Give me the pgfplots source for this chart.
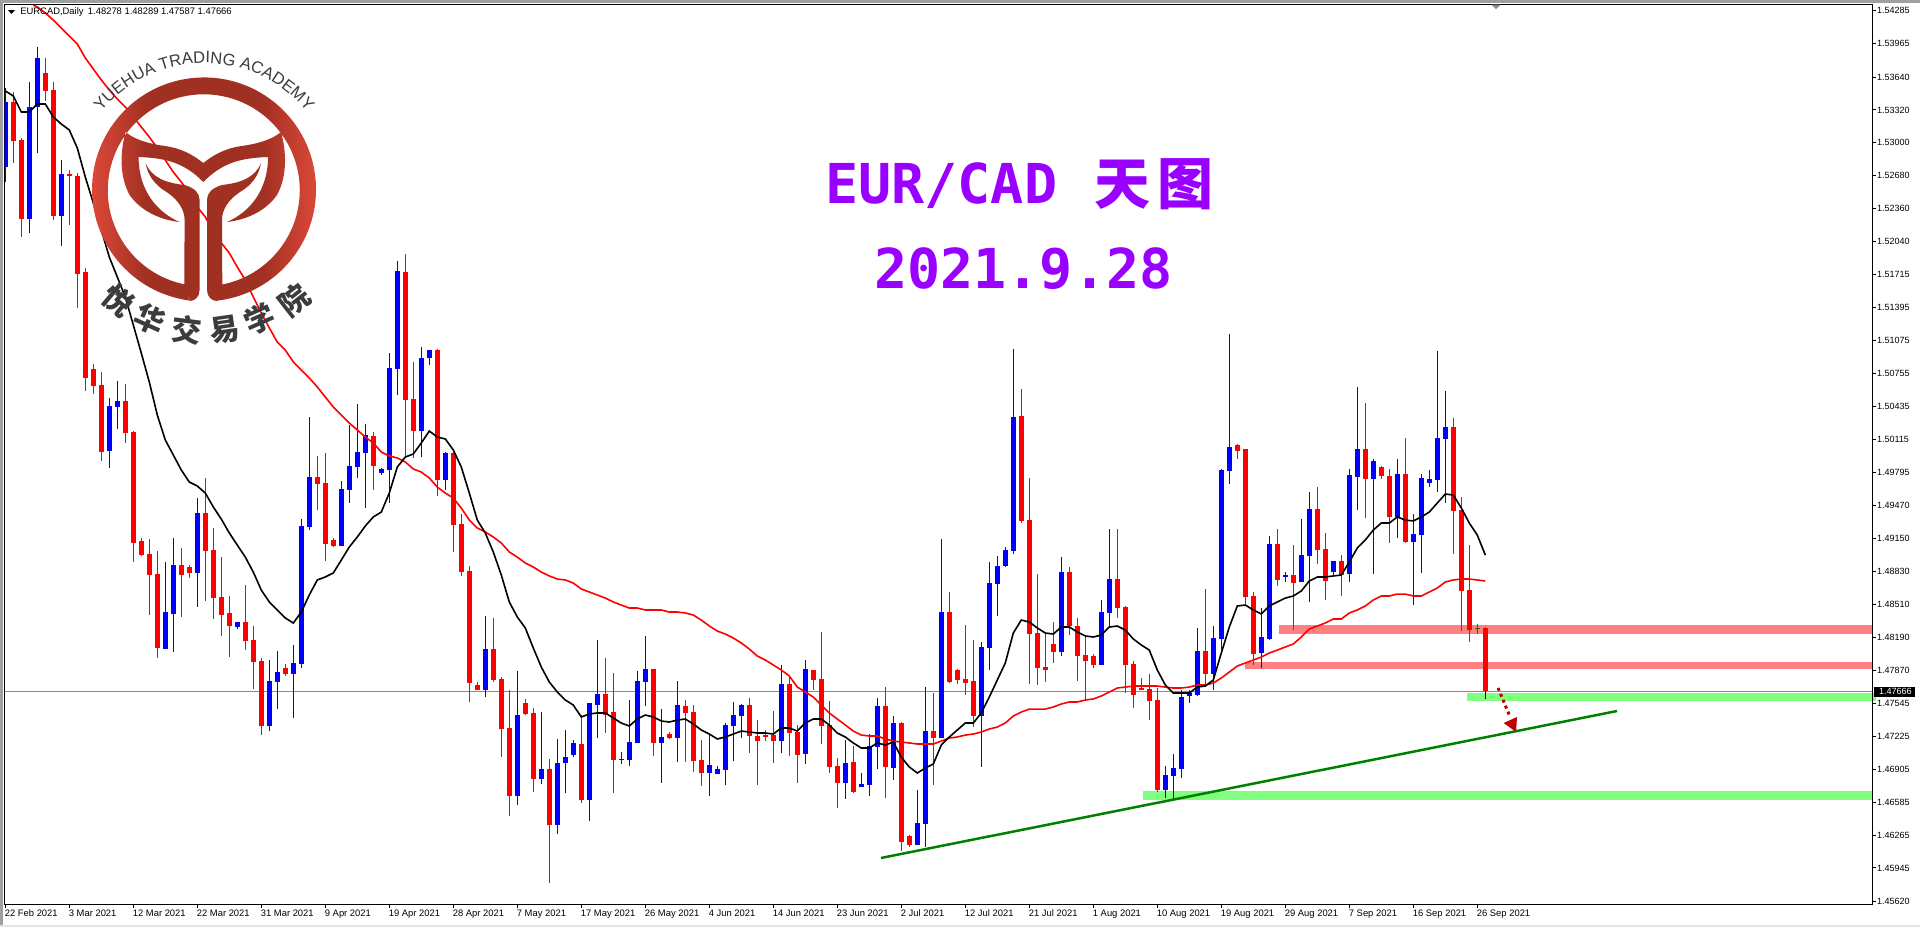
\documentclass[border=0pt]{standalone}
\usepackage{fontspec}
\usepackage{pgfplots}
\usepackage{pgfplotstable}
\pgfplotsset{compat=1.18}
\usetikzlibrary{decorations.text}
\setmainfont{Liberation Sans}
\newfontfamily\cjk{Noto Sans CJK SC}
\newfontfamily\tfont{DejaVu Sans Mono}
\definecolor{titlep}{HTML}{9900FF}
\definecolor{zoneR}{HTML}{FF8080}
\definecolor{zoneG}{HTML}{80FF80}
\definecolor{trend}{HTML}{008000}
\definecolor{hline}{HTML}{7F8C9C}
\definecolor{logoA}{HTML}{E24B3B}
\definecolor{logoB}{HTML}{A03022}
\definecolor{logoT}{HTML}{3C3C3C}
\definecolor{arrowc}{HTML}{C00000}
\pgfdeclarehorizontalshading{logoshade}{100bp}{color(0bp)=(logoA); color(25bp)=(logoA); color(38bp)=(logoB); color(62bp)=(logoB); color(75bp)=(logoA); color(100bp)=(logoA)}

\pgfplotstableread{
i l b t h
0 1.52619 1.52765 1.53398 1.53534
3 1.52123 1.52259 1.53349 1.53592
4 1.52901 1.53349 1.53826 1.53933
7 1.51996 1.52288 1.52697 1.52833
13 1.49836 1.50002 1.50440 1.50517
14 1.50216 1.50430 1.50488 1.50683
20 1.48075 1.48075 1.48435 1.48922
21 1.48046 1.48416 1.48893 1.49155
24 1.48484 1.48815 1.49399 1.49544
29 1.48270 1.48289 1.48338 1.48338
33 1.47277 1.47326 1.47764 1.47968
34 1.47491 1.47754 1.47851 1.48056
36 1.47404 1.47832 1.47939 1.48114
37 1.47890 1.47929 1.49272 1.49340
38 1.49233 1.49262 1.49749 1.50333
42 1.49077 1.49077 1.49632 1.49710
43 1.49496 1.49622 1.49856 1.50255
44 1.49739 1.49846 1.49992 1.50459
45 1.49447 1.49982 1.50157 1.50264
47 1.49768 1.49788 1.49827 1.49836
48 1.49496 1.49817 1.50809 1.50955
49 1.50547 1.50800 1.51753 1.51850
52 1.49943 1.50196 1.50907 1.51014
53 1.50839 1.50907 1.50984 1.50984
55 1.49622 1.49720 1.49982 1.49992
60 1.47608 1.47676 1.48075 1.48396
64 1.46557 1.46645 1.47433 1.47861
67 1.46762 1.46810 1.46908 1.47462
69 1.46275 1.46363 1.46966 1.47200
70 1.46674 1.46966 1.47024 1.47287
71 1.47024 1.47044 1.47161 1.47190
73 1.46402 1.46606 1.47550 1.47550
74 1.47209 1.47530 1.47637 1.48163
77 1.46956 1.46995 1.47005 1.47073
78 1.46937 1.46995 1.47170 1.47579
79 1.47161 1.47161 1.47764 1.47861
80 1.47521 1.47754 1.47881 1.48202
82 1.46771 1.47161 1.47219 1.47491
84 1.46976 1.47209 1.47530 1.47764
88 1.46645 1.46869 1.46947 1.47238
89 1.46859 1.46859 1.46908 1.46937
90 1.46752 1.46898 1.47336 1.47355
91 1.46985 1.47326 1.47433 1.47560
92 1.47209 1.47423 1.47530 1.47540
97 1.47063 1.47180 1.47735 1.47920
100 1.46956 1.47054 1.47881 1.47968
105 1.46616 1.46771 1.46966 1.47190
107 1.46733 1.46733 1.46762 1.46869
108 1.46645 1.46752 1.47131 1.47248
109 1.46908 1.47122 1.47521 1.47598
111 1.46801 1.46917 1.47355 1.47423
114 1.46168 1.46168 1.46382 1.46703
115 1.46149 1.46372 1.47277 1.47705
117 1.47209 1.47209 1.48435 1.49146
122 1.46927 1.47423 1.48095 1.48143
123 1.47871 1.48085 1.48717 1.48922
124 1.48396 1.48708 1.48883 1.48980
125 1.48873 1.48883 1.49038 1.49068
126 1.49000 1.49029 1.50333 1.50994
132 1.48007 1.48046 1.48824 1.48970
137 1.47920 1.47920 1.48435 1.48552
138 1.48289 1.48426 1.48756 1.49243
145 1.46625 1.46703 1.46849 1.46937
146 1.46606 1.46840 1.46917 1.47054
147 1.46820 1.46908 1.47608 1.47676
148 1.47550 1.47618 1.47647 1.47676
149 1.47618 1.47628 1.48056 1.48280
151 1.47676 1.47832 1.48182 1.48299
152 1.48065 1.48173 1.49817 1.49827
153 1.49681 1.49807 1.50041 1.51140
157 1.47890 1.48036 1.48192 1.48474
158 1.48163 1.48173 1.49097 1.49175
160 1.48727 1.48776 1.48795 1.48824
162 1.48727 1.48727 1.48990 1.49340
163 1.48533 1.48980 1.49437 1.49603
166 1.48786 1.48824 1.48931 1.48931
168 1.48727 1.48805 1.49768 1.49827
169 1.49428 1.49749 1.50021 1.50624
171 1.48805 1.49729 1.49904 1.49924
174 1.49155 1.49360 1.49778 1.49924
176 1.48503 1.49116 1.49194 1.49389
177 1.48815 1.49184 1.49739 1.49778
178 1.49651 1.49690 1.49729 1.49817
179 1.49603 1.49720 1.50128 1.50975
180 1.49496 1.50119 1.50235 1.50586
}\bullcandles

\pgfplotstableread{
i l b t h
1 1.52804 1.53018 1.53398 1.53495
2 1.52084 1.52259 1.53028 1.53047
5 1.53407 1.53505 1.53680 1.53826
6 1.52249 1.52288 1.53514 1.53592
8 1.52201 1.52678 1.52697 1.52736
9 1.51393 1.51724 1.52678 1.52707
10 1.50586 1.50712 1.51743 1.51782
11 1.50556 1.50634 1.50800 1.50848
12 1.49904 1.49992 1.50644 1.50770
15 1.50080 1.50177 1.50488 1.50654
16 1.48922 1.49107 1.50187 1.50196
17 1.48980 1.48990 1.49126 1.49155
18 1.48406 1.48795 1.49000 1.49146
19 1.47988 1.48085 1.48805 1.49029
22 1.48387 1.48795 1.48893 1.49058
23 1.48766 1.48815 1.48873 1.48893
25 1.48542 1.49029 1.49399 1.49739
26 1.48367 1.48571 1.49038 1.49253
27 1.48202 1.48406 1.48581 1.48970
28 1.47997 1.48299 1.48426 1.48591
30 1.48065 1.48153 1.48338 1.48698
31 1.47686 1.47949 1.48163 1.48299
32 1.47238 1.47326 1.47958 1.47988
35 1.47813 1.47832 1.47890 1.47929
39 1.49428 1.49681 1.49749 1.49953
40 1.48931 1.49097 1.49690 1.49982
41 1.49068 1.49077 1.49136 1.49155
46 1.49622 1.49856 1.50148 1.50187
50 1.49943 1.50498 1.51743 1.51919
51 1.49934 1.50196 1.50508 1.50868
54 1.49564 1.49720 1.50984 1.50994
56 1.49019 1.49282 1.49982 1.49992
57 1.48786 1.48824 1.49291 1.49389
58 1.47560 1.47744 1.48834 1.48883
59 1.47676 1.47676 1.47725 1.47754
61 1.47754 1.47774 1.48075 1.48377
62 1.47024 1.47297 1.47783 1.47803
63 1.46450 1.46645 1.47307 1.47676
65 1.47433 1.47443 1.47550 1.47589
66 1.46684 1.46810 1.47453 1.47501
68 1.45798 1.46363 1.46908 1.47005
72 1.46577 1.46606 1.47151 1.47433
75 1.47258 1.47433 1.47637 1.47988
76 1.46674 1.46995 1.47462 1.47842
81 1.47034 1.47161 1.47881 1.47881
83 1.47200 1.47209 1.47248 1.47268
85 1.46976 1.47453 1.47521 1.47579
86 1.46878 1.46985 1.47462 1.47530
87 1.46742 1.46869 1.46995 1.47190
93 1.47063 1.47229 1.47530 1.47598
94 1.46752 1.47180 1.47229 1.47384
95 1.47180 1.47219 1.47238 1.47287
96 1.46966 1.47180 1.47238 1.47472
98 1.47034 1.47258 1.47735 1.47803
99 1.46771 1.47044 1.47268 1.47336
101 1.47676 1.47774 1.47871 1.47871
102 1.47151 1.47326 1.47783 1.48241
103 1.46869 1.46927 1.47336 1.47569
104 1.46528 1.46771 1.46937 1.47015
106 1.46674 1.46684 1.46976 1.47131
110 1.46625 1.46927 1.47521 1.47705
112 1.46110 1.46197 1.47355 1.47365
113 1.46149 1.46168 1.46256 1.46265
116 1.46752 1.47209 1.47277 1.47647
118 1.47744 1.47754 1.48435 1.48630
119 1.47735 1.47774 1.47871 1.47881
120 1.47628 1.47744 1.47783 1.48309
121 1.47316 1.47423 1.47764 1.48163
127 1.49301 1.49321 1.50342 1.50605
128 1.47735 1.48221 1.49330 1.49739
129 1.47725 1.47890 1.48231 1.48805
130 1.47754 1.47871 1.47900 1.48231
131 1.47939 1.48046 1.48124 1.48338
133 1.48211 1.48299 1.48824 1.48873
134 1.47764 1.48007 1.48299 1.48377
135 1.47579 1.47958 1.48017 1.48192
136 1.47890 1.47920 1.48007 1.48027
139 1.48377 1.48474 1.48756 1.49243
140 1.47647 1.47920 1.48484 1.48494
141 1.47501 1.47628 1.47929 1.47958
142 1.47676 1.47676 1.47696 1.47793
143 1.47384 1.47569 1.47686 1.47832
144 1.46684 1.46703 1.47579 1.47696
150 1.47725 1.47832 1.48056 1.48659
154 1.49924 1.50002 1.50060 1.50070
155 1.48503 1.48581 1.50021 1.50021
156 1.47920 1.48027 1.48591 1.48630
159 1.48688 1.48747 1.49097 1.49243
161 1.48260 1.48717 1.48795 1.49087
164 1.48902 1.49038 1.49437 1.49651
165 1.48552 1.48737 1.49048 1.49204
167 1.48591 1.48795 1.48931 1.48990
170 1.49350 1.49729 1.50021 1.50469
172 1.49729 1.49759 1.49846 1.49856
173 1.49107 1.49360 1.49759 1.49827
175 1.49107 1.49116 1.49778 1.50128
181 1.49000 1.49418 1.50235 1.50323
182 1.48250 1.48640 1.49428 1.49554
183 1.48143 1.48260 1.48649 1.49087
185 1.47587 1.47666 1.48278 1.48289
}\bearcandles

\pgfplotstableread{
i l b t h
184 1.48221 1.48270 1.48280 1.48318
}\dojicandles

\pgfplotsset{
  wicks/.style={forget plot, draw=none, no markers, error bars/.cd, y dir=plus, y explicit, error mark=none, error bar style={draw=#1, solid, line width=0.5pt}},
  bodies/.style={forget plot, draw=none, no markers, error bars/.cd, y dir=plus, y explicit, error mark=none, error bar style={draw=#1, solid, line width=2.5pt}},
}

\begin{document}
\begin{tikzpicture}
\path[use as bounding box] (0,0) rectangle (960pt,-463.5pt);
\fill[white] (0,0) rectangle (960pt,-463.5pt);
\begin{axis}[
  at={(2.35pt,-2.15pt)}, anchor=north west,
  scale only axis, width=933.65pt, height=449.85pt,
  xmin=-0.075, xmax=233.34, ymin=1.45594, ymax=1.54348,
  axis line style={black, line width=0.5pt},
  xtick pos=bottom, ytick pos=right, tick align=outside,
  major tick length=2pt, tick style={black, line width=0.5pt},
  xtick={0,8,...,184},
  xticklabels={22 Feb 2021,3 Mar 2021,12 Mar 2021,22 Mar 2021,31 Mar 2021,9 Apr 2021,19 Apr 2021,28 Apr 2021,7 May 2021,17 May 2021,26 May 2021,4 Jun 2021,14 Jun 2021,23 Jun 2021,2 Jul 2021,12 Jul 2021,21 Jul 2021,1 Aug 2021,10 Aug 2021,19 Aug 2021,29 Aug 2021,7 Sep 2021,16 Sep 2021,26 Sep 2021},
  ytick={1.54285,1.53965,1.53640,1.53320,1.53000,1.52680,1.52360,1.52040,1.51715,1.51395,1.51075,1.50755,1.50435,1.50115,1.49795,1.49470,1.49150,1.48830,1.48510,1.48190,1.47870,1.47545,1.47225,1.46905,1.46585,1.46265,1.45945,1.45620},
  yticklabels={1.54285,1.53965,1.53640,1.53320,1.53000,1.52680,1.52360,1.52040,1.51715,1.51395,1.51075,1.50755,1.50435,1.50115,1.49795,1.49470,1.49150,1.48830,1.48510,1.48190,1.47870,1.47545,1.47225,1.46905,1.46585,1.46265,1.45945,1.45620},
  xticklabel style={font=\fontsize{4.7}{5}\selectfont, anchor=north west, inner sep=0pt, xshift=-0.4pt, yshift=-0.6pt},
  yticklabel style={font=\fontsize{4.5}{5}\selectfont, anchor=west, inner sep=0pt, xshift=0.3pt},
]
% zones and last-price line, behind the candles
\addplot[forget plot, fill=zoneR, draw=none] coordinates {(159.2,1.48309)(233.34,1.48309)(233.34,1.48221)(159.2,1.48221)} --cycle;
\addplot[forget plot, fill=zoneR, draw=none] coordinates {(154.96,1.47949)(233.34,1.47949)(233.34,1.47881)(154.96,1.47881)} --cycle;
\addplot[forget plot, fill=zoneG, draw=none] coordinates {(182.71,1.47647)(233.34,1.47647)(233.34,1.47569)(182.71,1.47569)} --cycle;
\addplot[forget plot, fill=zoneG, draw=none] coordinates {(142.2,1.46694)(233.34,1.46694)(233.34,1.46606)(142.2,1.46606)} --cycle;
\addplot[forget plot, hline, line width=0.5pt] coordinates {(-0.075,1.47666)(233.34,1.47666)};
% candles
\addplot[wicks=blue] table[x=i,y=l,y error plus expr=\thisrow{h}-\thisrow{l}] {\bullcandles};
\addplot[bodies=blue] table[x=i,y=b,y error plus expr=\thisrow{t}-\thisrow{b}] {\bullcandles};
\addplot[wicks=red] table[x=i,y=l,y error plus expr=\thisrow{h}-\thisrow{l}] {\bearcandles};
\addplot[bodies=red] table[x=i,y=b,y error plus expr=\thisrow{t}-\thisrow{b}] {\bearcandles};
\addplot[wicks=trend] table[x=i,y=l,y error plus expr=\thisrow{h}-\thisrow{l}] {\dojicandles};
\addplot[bodies=trend] table[x=i,y=b,y error plus expr=\thisrow{t}-\thisrow{b}] {\dojicandles};
\addplot[forget plot, black, line width=0.5pt] coordinates {(185,1.47666)(185,1.47587)};
% slow moving average
\addplot[forget plot, red, line width=0.8pt] coordinates {
(3.5,1.54340)(4,1.54322)(5,1.54264)(6,1.54195)(7,1.54118)(8,1.54040)(9,1.53962)(10,1.53826)(11,1.53719)(12,1.53612)(13,1.53514)(14,1.53427)(15,1.53349)(16,1.53252)(17,1.53154)(18,1.53057)(19,1.52950)(20,1.52833)(21,1.52716)(22,1.52619)(23,1.52512)(24,1.52376)(25,1.52279)(26,1.52133)(27,1.52026)(28,1.51928)(29,1.51792)(30,1.51666)(31,1.51500)(32,1.51345)(33,1.51199)(34,1.51062)(35,1.50984)(36,1.50868)(37,1.50790)(38,1.50712)(39,1.50625)(40,1.50527)(41,1.50430)(42,1.50352)(43,1.50274)(44,1.50206)(45,1.50138)(46,1.50080)(47,1.49992)(48,1.49953)(49,1.49934)(50,1.49895)(51,1.49827)(52,1.49797)(53,1.49739)(54,1.49651)(55,1.49593)(56,1.49544)(57,1.49447)(58,1.49330)(59,1.49253)(60,1.49214)(61,1.49165)(62,1.49107)(63,1.49019)(64,1.48970)(65,1.48912)(66,1.48873)(67,1.48824)(68,1.48786)(69,1.48756)(70,1.48747)(71,1.48717)(72,1.48659)(73,1.48630)(74,1.48601)(75,1.48571)(76,1.48533)(77,1.48503)(78,1.48474)(79,1.48474)(80,1.48455)(81,1.48455)(82,1.48455)(83,1.48435)(84,1.48435)(85,1.48426)(86,1.48406)(87,1.48357)(88,1.48299)(89,1.48250)(90,1.48221)(91,1.48182)(92,1.48134)(93,1.48075)(94,1.48007)(95,1.47968)(96,1.47920)(97,1.47871)(98,1.47813)(99,1.47705)(100,1.47657)(101,1.47608)(102,1.47530)(103,1.47453)(104,1.47394)(105,1.47336)(106,1.47277)(107,1.47238)(108,1.47229)(109,1.47229)(110,1.47200)(111,1.47180)(112,1.47170)(113,1.47161)(114,1.47151)(115,1.47151)(116,1.47151)(117,1.47180)(118,1.47209)(119,1.47219)(120,1.47238)(121,1.47248)(122,1.47268)(123,1.47297)(124,1.47316)(125,1.47355)(126,1.47423)(127,1.47462)(128,1.47491)(129,1.47491)(130,1.47491)(131,1.47511)(132,1.47540)(133,1.47560)(134,1.47560)(135,1.47579)(136,1.47589)(137,1.47618)(138,1.47657)(139,1.47696)(140,1.47705)(141,1.47715)(142,1.47715)(143,1.47715)(144,1.47715)(145,1.47705)(146,1.47696)(147,1.47696)(148,1.47705)(149,1.47725)(150,1.47725)(151,1.47744)(152,1.47793)(153,1.47851)(154,1.47910)(155,1.47939)(156,1.47968)(157,1.47997)(158,1.48036)(159,1.48065)(160,1.48095)(161,1.48124)(162,1.48192)(163,1.48270)(164,1.48299)(165,1.48328)(166,1.48367)(167,1.48367)(168,1.48426)(169,1.48455)(170,1.48494)(171,1.48552)(172,1.48591)(173,1.48591)(174,1.48610)(175,1.48610)(176,1.48591)(177,1.48591)(178,1.48630)(179,1.48669)(180,1.48727)(181,1.48747)(182,1.48756)(183,1.48756)(184,1.48747)(185,1.48737)};
% fast moving average
\addplot[forget plot, black, line width=0.8pt] coordinates {
(0,1.53505)(1,1.53456)(2,1.53300)(3,1.53300)(4,1.53378)(5,1.53378)(6,1.53252)(7,1.53183)(8,1.53125)(9,1.52950)(10,1.52668)(11,1.52415)(12,1.52152)(13,1.51889)(14,1.51695)(15,1.51500)(16,1.51228)(17,1.50955)(18,1.50673)(19,1.50352)(20,1.50109)(21,1.49963)(22,1.49817)(23,1.49700)(24,1.49661)(25,1.49593)(26,1.49457)(27,1.49340)(28,1.49204)(29,1.49087)(30,1.48970)(31,1.48824)(32,1.48649)(33,1.48533)(34,1.48455)(35,1.48377)(36,1.48328)(37,1.48435)(38,1.48601)(39,1.48747)(40,1.48776)(41,1.48815)(42,1.48941)(43,1.49068)(44,1.49165)(45,1.49272)(46,1.49360)(47,1.49408)(48,1.49593)(49,1.49846)(50,1.49943)(51,1.49973)(52,1.50080)(53,1.50196)(54,1.50138)(55,1.50119)(56,1.50012)(57,1.49846)(58,1.49593)(59,1.49330)(60,1.49204)(61,1.49019)(62,1.48795)(63,1.48533)(64,1.48387)(65,1.48280)(66,1.48085)(67,1.47900)(68,1.47754)(69,1.47657)(70,1.47579)(71,1.47530)(72,1.47414)(73,1.47443)(74,1.47453)(75,1.47453)(76,1.47404)(77,1.47355)(78,1.47326)(79,1.47394)(80,1.47433)(81,1.47414)(82,1.47375)(83,1.47365)(84,1.47384)(85,1.47394)(86,1.47346)(87,1.47287)(88,1.47248)(89,1.47200)(90,1.47219)(91,1.47248)(92,1.47277)(93,1.47268)(94,1.47258)(95,1.47258)(96,1.47248)(97,1.47307)(98,1.47307)(99,1.47277)(100,1.47355)(101,1.47394)(102,1.47394)(103,1.47336)(104,1.47258)(105,1.47219)(106,1.47161)(107,1.47112)(108,1.47112)(109,1.47161)(110,1.47141)(111,1.47170)(112,1.47024)(113,1.46927)(114,1.46869)(115,1.46917)(116,1.46956)(117,1.47141)(118,1.47219)(119,1.47287)(120,1.47355)(121,1.47355)(122,1.47453)(123,1.47608)(124,1.47774)(125,1.47939)(126,1.48231)(127,1.48357)(128,1.48338)(129,1.48280)(130,1.48231)(131,1.48221)(132,1.48289)(133,1.48289)(134,1.48241)(135,1.48202)(136,1.48192)(137,1.48211)(138,1.48289)(139,1.48299)(140,1.48260)(141,1.48173)(142,1.48114)(143,1.48065)(144,1.47871)(145,1.47725)(146,1.47647)(147,1.47647)(148,1.47647)(149,1.47705)(150,1.47715)(151,1.47774)(152,1.48036)(153,1.48289)(154,1.48494)(155,1.48503)(156,1.48455)(157,1.48416)(158,1.48494)(159,1.48533)(160,1.48571)(161,1.48591)(162,1.48640)(163,1.48737)(164,1.48776)(165,1.48776)(166,1.48786)(167,1.48795)(168,1.48922)(169,1.49058)(170,1.49136)(171,1.49233)(172,1.49301)(173,1.49301)(174,1.49360)(175,1.49330)(176,1.49321)(177,1.49360)(178,1.49408)(179,1.49496)(180,1.49583)(181,1.49574)(182,1.49447)(183,1.49301)(184,1.49184)(185,1.48990)};
% trend line and projection arrow
\addplot[forget plot, trend, line width=1.25pt] coordinates {(109.46,1.46042)(201.46,1.47472)};
\addplot[forget plot, arrowc, line width=1.5pt, dash pattern=on 1.5pt off 1.7pt] coordinates {(186.6,1.47696)(188.1,1.47414)};
\addplot[forget plot, fill=arrowc, draw=none] coordinates {(187.3,1.47355)(188.96,1.47414)(188.85,1.47268)} --cycle;
\end{axis}
\begin{scope}[x=0.5pt,y=-0.5pt]
% window frame
\fill[gray!75] (0,0) rectangle (1920,2.5);
\fill[gray!75] (0,0) rectangle (2.5,925);
\fill[gray!20] (0,925) rectangle (1920,927);
% header
\fill[black] (8,10) -- (15,10) -- (11.5,14) -- cycle;
\node[anchor=west, inner sep=0pt, font=\fontsize{4.7}{5}\selectfont] at (20,12.5) {EURCAD,Daily\hspace{2.2pt}1.48278 1.48289 1.47587 1.47666};
\fill[hline] (1491,4.5) -- (1501,4.5) -- (1496,9) -- cycle;
% last price box
\fill[zoneG] (1872.5,693) rectangle (1876,701);
\fill[black] (1874,687) rectangle (1915,697);
\node[anchor=west, inner sep=0pt, text=white, font=\fontsize{4.5}{5}\selectfont] at (1878.7,691.8) {1.47666};
% title
\node[anchor=base west, inner sep=0pt, text=titlep, font=\tfont\bfseries\fontsize{27.5}{30}\selectfont] at (825,203) {EUR/CAD};
\node[anchor=base west, inner sep=0pt, text=titlep, font=\cjk\bfseries\fontsize{28}{30}\selectfont] at (1094,204) {天};
\node[anchor=base west, inner sep=0pt, text=titlep, font=\cjk\bfseries\fontsize{28}{30}\selectfont] at (1157,204) {图};
\node[anchor=base west, inner sep=0pt, text=titlep, font=\tfont\bfseries\fontsize{27.5}{30}\selectfont] at (874,288) {2021.9.28};
% academy logo
\shade[shading=logoshade]
  (216.7,300.7) arc[start angle=83.5, end angle=-262.8, radius=112]
  -- (184.3,284.3) arc[start angle=-258.3, end angle=79.2, radius=96] -- cycle
  (261,163) .. controls (255,178) and (240,183) .. (222,185) .. controls (212,188) and (207,193) .. (207,200) -- (207,290) .. controls (207,297) and (212,301) .. (217,301) -- (222.3,284.3) -- (222,220) .. controls (222,210) and (228,200) .. (240,192) .. controls (252,185) and (259,175) .. (261,163) -- cycle
  (145.6,163) .. controls (151.6,178) and (166.6,183) .. (184.6,185) .. controls (194.6,188) and (199.6,193) .. (199.6,200) -- (199.6,290) .. controls (199.6,297) and (194.6,301) .. (189.6,301) -- (184.3,284.3) -- (184.6,220) .. controls (184.6,210) and (178.6,200) .. (166.6,192) .. controls (154.6,185) and (147.6,175) .. (145.6,163) -- cycle
  (125.6,132) .. controls (135,140) and (150,144) .. (165,146) .. controls (180,148) and (192,154) .. (203.3,163) .. controls (214.6,154) and (226.6,148) .. (241.6,146) .. controls (256.6,144) and (271.6,140) .. (281,132) .. controls (286,150) and (288,175) .. (277,195) .. controls (265,212) and (245,220) .. (227,222) .. controls (250,212) and (268,190) .. (268,157) .. controls (240,158) and (222,163) .. (203.3,182) .. controls (184.6,163) and (166.6,158) .. (138.6,157) .. controls (138.6,190) and (156.6,212) .. (179.6,222) .. controls (161.6,220) and (141.6,212) .. (129.6,195) .. controls (118.6,175) and (120.6,150) .. (125.6,132) -- cycle;
\path[decorate, decoration={text along path, text align=center, text={|\fontsize{8.3}{10}\selectfont\color{logoT}|YUEHUA TRADING ACADEMY}}]
  (204,196) ++(-141.4:133) arc[start angle=-141.4, end angle=-38.6, radius=133];
\foreach \ch/\cx/\cy/\rot in {悦/118/300/-40, 华/150/319/-24, 交/187/330/-7, 易/225/330/8, 学/259/319/24, 院/294/300/38}
  \node[inner sep=0pt, rotate=\rot, text=logoT, font=\cjk\bfseries\fontsize{15}{16}\selectfont] at (\cx,\cy) {\ch};
\end{scope}
\end{tikzpicture}
\end{document}
